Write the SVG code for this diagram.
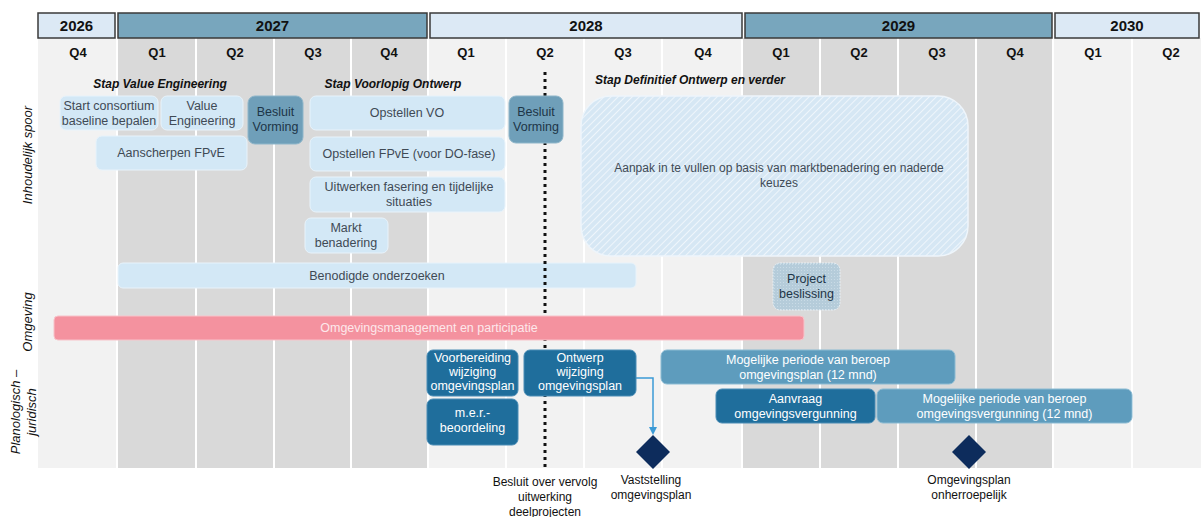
<svg xmlns="http://www.w3.org/2000/svg" width="1201" height="517" viewBox="0 0 1201 517">
<style>
text{font-family:"Liberation Sans",Arial,sans-serif}
.yr{font-size:15px;font-weight:bold;fill:#111;text-anchor:middle}
.q{font-size:13px;font-weight:bold;fill:#111;text-anchor:middle}
.stap{font-size:12px;font-weight:bold;font-style:italic;fill:#111;text-anchor:middle}
.side{font-size:13px;font-style:italic;fill:#111;text-anchor:middle}
.lb{fill:#d3e8f6;stroke:#e8f3fb;stroke-width:1}
.lt{font-size:12.5px;fill:#3f4a55;text-anchor:middle}
.bv{fill:#6f9fb9;stroke:#8fb6ca;stroke-width:1}
.bvt{font-size:12.5px;fill:#1d3547;text-anchor:middle}
.db{fill:#1f6e9c;stroke:#4a8cb5;stroke-width:1}
.dt{font-size:12.5px;fill:#ffffff;text-anchor:middle}
.mb{fill:#5e9cbd;stroke:#8bbbd3;stroke-width:1}
.bot{font-size:12px;fill:#111;text-anchor:middle}
.sep{stroke:#ffffff;stroke-width:2}
</style>
<defs>
<pattern id="hatch" width="5" height="5" patternUnits="userSpaceOnUse" patternTransform="rotate(45)">
<rect width="5" height="5" fill="#d6e7f4"/>
<line x1="0" y1="0" x2="0" y2="5" stroke="#eef5fb" stroke-width="2"/>
</pattern>
<pattern id="dots" width="3" height="3" patternUnits="userSpaceOnUse">
<rect width="3" height="3" fill="#b5ccda"/>
<rect width="1" height="1" fill="#c9dbe6"/>
</pattern>
<marker id="arr" markerWidth="8" markerHeight="8" refX="6" refY="4" orient="auto" markerUnits="userSpaceOnUse">
<path d="M0,0 L8,4 L0,8 z" fill="#3b9ad6"/>
</marker>
</defs>
<rect width="1201" height="517" fill="#ffffff"/>
<g id="background">
<rect x="38" y="38" width="1163" height="430" fill="#f2f2f2"/>
<rect x="117" y="38" width="311" height="430" fill="#d9d9d9"/>
<rect x="742" y="38" width="311" height="430" fill="#d9d9d9"/>
<g class="sep">
<line x1="117" y1="38" x2="117" y2="468"/>
<line x1="196" y1="38" x2="196" y2="468"/>
<line x1="274" y1="38" x2="274" y2="468"/>
<line x1="351" y1="38" x2="351" y2="468"/>
<line x1="428" y1="38" x2="428" y2="468"/>
<line x1="506" y1="38" x2="506" y2="468"/>
<line x1="584" y1="38" x2="584" y2="468"/>
<line x1="662" y1="38" x2="662" y2="468"/>
<line x1="742" y1="38" x2="742" y2="468"/>
<line x1="820" y1="38" x2="820" y2="468"/>
<line x1="898" y1="38" x2="898" y2="468"/>
<line x1="976" y1="38" x2="976" y2="468"/>
<line x1="1053" y1="38" x2="1053" y2="468"/>
<line x1="1132" y1="38" x2="1132" y2="468"/>
</g>
</g>
<g id="years">
<rect x="38" y="13" width="77" height="25" fill="#dce9f5" stroke="#3a3a3a" stroke-width="1.5"/>
<text class="yr" x="76.5" y="31">2026</text>
<rect x="118" y="13" width="309" height="25" fill="#78a6bd" stroke="#3a3a3a" stroke-width="1.5"/>
<text class="yr" x="272.5" y="31">2027</text>
<rect x="430" y="13" width="312" height="25" fill="#dce9f5" stroke="#3a3a3a" stroke-width="1.5"/>
<text class="yr" x="586" y="31">2028</text>
<rect x="745" y="13" width="307" height="25" fill="#78a6bd" stroke="#3a3a3a" stroke-width="1.5"/>
<text class="yr" x="898.5" y="31">2029</text>
<rect x="1055" y="13" width="144" height="25" fill="#dce9f5" stroke="#3a3a3a" stroke-width="1.5"/>
<text class="yr" x="1127" y="31">2030</text>
</g>
<g id="quarters">
<text class="q" x="78" y="57">Q4</text>
<text class="q" x="157" y="57">Q1</text>
<text class="q" x="235" y="57">Q2</text>
<text class="q" x="313" y="57">Q3</text>
<text class="q" x="389" y="57">Q4</text>
<text class="q" x="466" y="57">Q1</text>
<text class="q" x="545" y="57">Q2</text>
<text class="q" x="623" y="57">Q3</text>
<text class="q" x="703" y="57">Q4</text>
<text class="q" x="781" y="57">Q1</text>
<text class="q" x="859" y="57">Q2</text>
<text class="q" x="937" y="57">Q3</text>
<text class="q" x="1015" y="57">Q4</text>
<text class="q" x="1093" y="57">Q1</text>
<text class="q" x="1171" y="57">Q2</text>
</g>
<g id="side-labels">
<text class="side" transform="translate(32,155) rotate(-90)">Inhoudelijk spoor</text>
<text class="side" transform="translate(32,322) rotate(-90)">Omgeving</text>
<text class="side" transform="translate(20,412) rotate(-90)">Planologisch –</text>
<text class="side" transform="translate(36,412) rotate(-90)">juridisch</text>
</g>
<g id="stap-labels">
<text class="stap" x="160" y="88">Stap Value Engineering</text>
<text class="stap" x="393" y="88">Stap Voorlopig Ontwerp</text>
<text class="stap" x="690" y="84">Stap Definitief Ontwerp en verder</text>
</g>
<g id="node-start">
<rect class="lb" x="60" y="96" width="98" height="34" rx="6"/>
<text class="lt" x="109" y="110">Start consortium</text>
<text class="lt" x="109" y="125">baseline bepalen</text>
</g>
<g id="node-value">
<rect class="lb" x="161" y="96" width="82" height="34" rx="6"/>
<text class="lt" x="202" y="110">Value</text>
<text class="lt" x="202" y="125">Engineering</text>
</g>
<g id="node-aanscherpen">
<rect class="lb" x="96" y="136" width="151" height="34" rx="6"/>
<text class="lt" x="171" y="157">Aanscherpen FPvE</text>
</g>
<g id="node-opstellen-vo">
<rect class="lb" x="310" y="96" width="195" height="34" rx="6"/>
<text class="lt" x="407" y="117">Opstellen VO</text>
</g>
<g id="node-opstellen-fpve">
<rect class="lb" x="310" y="137" width="195" height="34" rx="6"/>
<text class="lt" x="409" y="158">Opstellen FPvE (voor DO-fase)</text>
</g>
<g id="node-uitwerken">
<rect class="lb" x="310" y="177" width="195" height="35" rx="6"/>
<text class="lt" x="409" y="191">Uitwerken fasering en tijdelijke</text>
<text class="lt" x="409" y="206">situaties</text>
</g>
<g id="node-markt">
<rect class="lb" x="305" y="218" width="83" height="35" rx="6"/>
<text class="lt" x="346" y="232">Markt</text>
<text class="lt" x="346" y="247">benadering</text>
</g>
<g id="node-aanpak">
<rect x="581" y="96" width="387" height="160" rx="30" fill="url(#hatch)" stroke="#eef5fb" stroke-width="1.5"/>
<text class="lt" x="779" y="172" style="font-size:12px">Aanpak in te vullen  op basis van marktbenadering en naderde</text>
<text class="lt" x="779" y="187" style="font-size:12px">keuzes</text>
</g>
<g id="node-benodigde">
<rect class="lb" x="118" y="263" width="518" height="25" rx="5"/>
<text class="lt" x="377" y="280">Benodigde onderzoeken</text>
</g>
<g id="connectors">
<line x1="545" y1="72" x2="545" y2="468" stroke="#111" stroke-width="3" stroke-dasharray="3 4"/>
<path d="M636,378 H653 V433" fill="none" stroke="#3b9ad6" stroke-width="1.5" marker-end="url(#arr)"/>
</g>
<g id="node-besluit-1">
<rect class="bv" x="248" y="96" width="55" height="48" rx="7"/>
<text class="bvt" x="275.5" y="116">Besluit</text>
<text class="bvt" x="275.5" y="131">Vorming</text>
</g>
<g id="node-besluit-2">
<rect class="bv" x="509" y="96" width="54" height="47" rx="7"/>
<text class="bvt" x="536" y="116">Besluit</text>
<text class="bvt" x="536" y="131">Vorming</text>
</g>
<g id="node-project">
<rect x="773" y="263" width="67" height="47" rx="7" fill="url(#dots)" stroke="#e6eff5" stroke-width="1" stroke-dasharray="2 1"/>
<text class="bvt" x="806.5" y="283">Project</text>
<text class="bvt" x="806.5" y="298">beslissing</text>
</g>
<g id="node-omgevingsmanagement">
<rect x="54" y="316" width="750" height="24" rx="4" fill="#f4929f" stroke="#f8c3ca" stroke-width="1"/>
<text class="lt" x="429" y="332" style="fill:#fde8eb">Omgevingsmanagement en participatie</text>
</g>
<g id="node-voorbereiding">
<rect class="db" x="427" y="350" width="91" height="46" rx="6"/>
<text class="dt" x="472.5" y="362">Voorbereiding</text>
<text class="dt" x="472.5" y="376">wijziging</text>
<text class="dt" x="472.5" y="390">omgevingsplan</text>
</g>
<g id="node-mer">
<rect class="db" x="427" y="399" width="91" height="46" rx="6"/>
<text class="dt" x="472.5" y="417">m.e.r.-</text>
<text class="dt" x="472.5" y="432">beoordeling</text>
</g>
<g id="node-ontwerp">
<rect class="db" x="524" y="350" width="112" height="46" rx="6"/>
<text class="dt" x="580" y="362">Ontwerp</text>
<text class="dt" x="580" y="376">wijziging</text>
<text class="dt" x="580" y="390">omgevingsplan</text>
</g>
<g id="node-beroep-plan">
<rect class="mb" x="661" y="350" width="294" height="34" rx="6"/>
<text class="dt" x="808" y="364">Mogelijke periode van beroep</text>
<text class="dt" x="808" y="379">omgevingsplan (12 mnd)</text>
</g>
<g id="node-aanvraag">
<rect class="db" x="716" y="389" width="159" height="34" rx="6"/>
<text class="dt" x="795.5" y="403">Aanvraag</text>
<text class="dt" x="795.5" y="418">omgevingsvergunning</text>
</g>
<g id="node-beroep-vergunning">
<rect class="mb" x="877" y="389" width="255" height="34" rx="6"/>
<text class="dt" x="1004.5" y="403">Mogelijke periode van beroep</text>
<text class="dt" x="1004.5" y="418">omgevingsvergunning (12 mnd)</text>
</g>
<g id="milestone-vaststelling">
<polygon points="653,435 670,452 653,469 636,452" fill="#0d2c5c"/>
<text class="bot" x="651" y="484">Vaststelling</text>
<text class="bot" x="651" y="499">omgevingsplan</text>
</g>
<g id="milestone-onherroepelijk">
<polygon points="969,435 986,452 969,469 952,452" fill="#0d2c5c"/>
<text class="bot" x="969" y="484">Omgevingsplan</text>
<text class="bot" x="969" y="499">onherroepelijk</text>
</g>
<g id="label-besluit-vervolg">
<text class="bot" x="545" y="486">Besluit over vervolg</text>
<text class="bot" x="545" y="501">uitwerking</text>
<text class="bot" x="545" y="516">deelprojecten</text>
</g>
</svg>
